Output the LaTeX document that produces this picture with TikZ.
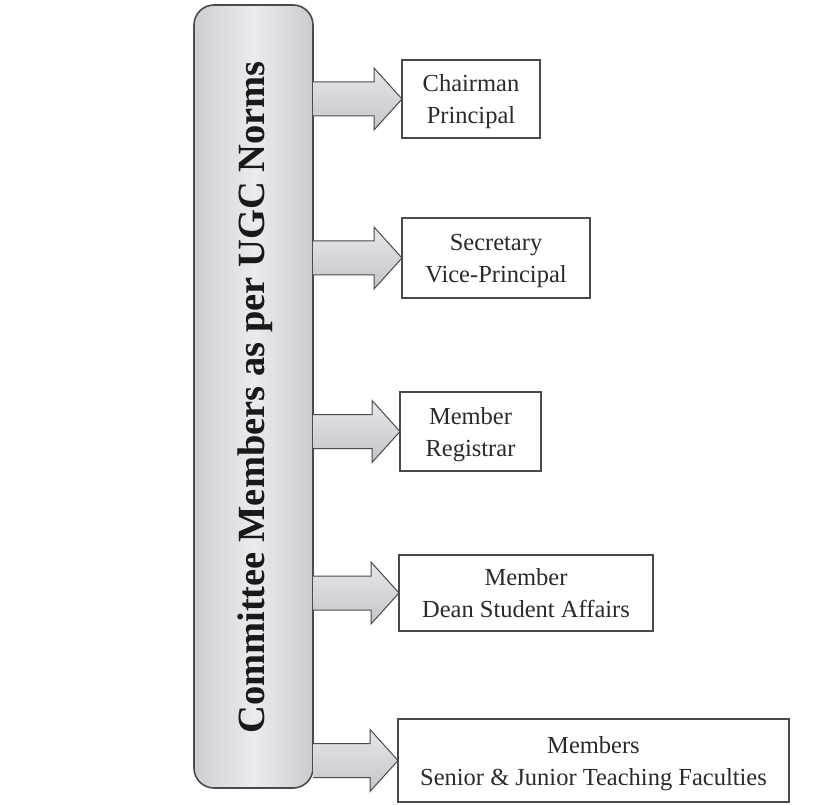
\documentclass[tikz,border=0pt]{standalone}
\usepackage{fontspec}
\setmainfont{Liberation Serif}
\usetikzlibrary{calc}
\definecolor{edgegray}{HTML}{4A4A4E}
\definecolor{txtgray}{HTML}{2A2A2A}
\definecolor{barL}{HTML}{CDCDD2}
\definecolor{barM}{HTML}{EBEBEF}
\definecolor{barR}{HTML}{CBCBD0}
\definecolor{arrT}{HTML}{E6E6EA}
\definecolor{arrB}{HTML}{C4C4CA}
\tikzset{
  tallbox/.style={draw=edgegray, line width=1.6pt, rounded corners=20pt,
    left color=barL, right color=barR, middle color=barM,
    minimum width=119pt, minimum height=783pt, inner sep=0pt, outer sep=0pt},
  titletext/.style={rotate=90, anchor=base, text=black!90,
    font=\fontsize{38.5}{44}\selectfont\bfseries, inner sep=0pt},
  rolebox/.style={draw=edgegray, line width=1.2pt, fill=white, text=txtgray,
    align=center, inner sep=0pt, outer sep=0pt, text depth=0pt,
    font=\fontsize{24.5}{32}\selectfont},
  blockarrow/.style={draw=edgegray, line width=1pt, top color=arrT, bottom color=arrB,
    to path={let \p1=(\tikztostart), \p2=(\tikztotarget) in
      (\x1,\y1+17pt) -- (\x2-28pt,\y1+17pt) -- (\x2-28pt,\y1+31pt) -- (\x2,\y1)
      -- (\x2-28pt,\y1-31pt) -- (\x2-28pt,\y1-17pt) -- (\x1,\y1-17pt)}},
}
\begin{document}
\begin{tikzpicture}[x=1pt,y=-1pt]
  \useasboundingbox (0,0) rectangle (817,805);
  \fill[white] (0,0) rectangle (817,805);

  \node[tallbox] (main) at (253.5,396.5) {};
  \node[titletext] (title) at (264,397.5) {Committee Members as per UGC Norms};

  \node[rolebox, minimum width=138pt, minimum height=78pt] (b1) at (471,99) {Chairman\\Principal};
  \node[rolebox, minimum width=188pt, minimum height=80pt] (b2) at (496,258) {Secretary\\Vice-Principal};
  \node[rolebox, minimum width=141pt, minimum height=79pt] (b3) at (470.5,431.5) {Member\\Registrar};
  \node[rolebox, minimum width=254pt, minimum height=76pt] (b4) at (526,593) {Member\\Dean Student Affairs};
  \node[rolebox, minimum width=391pt, minimum height=83pt] (b5) at (593.5,760.5) {Members\\Senior \& Junior Teaching Faculties};

  \draw[blockarrow] (main.east |- b1.west) to (b1.west);
  \draw[blockarrow] (main.east |- b2.west) to (b2.west);
  \draw[blockarrow] (main.east |- b3.west) to (b3.west);
  \draw[blockarrow] (main.east |- b4.west) to (b4.west);
  \draw[blockarrow] (main.east |- b5.west) to (b5.west);
\end{tikzpicture}
\end{document}
